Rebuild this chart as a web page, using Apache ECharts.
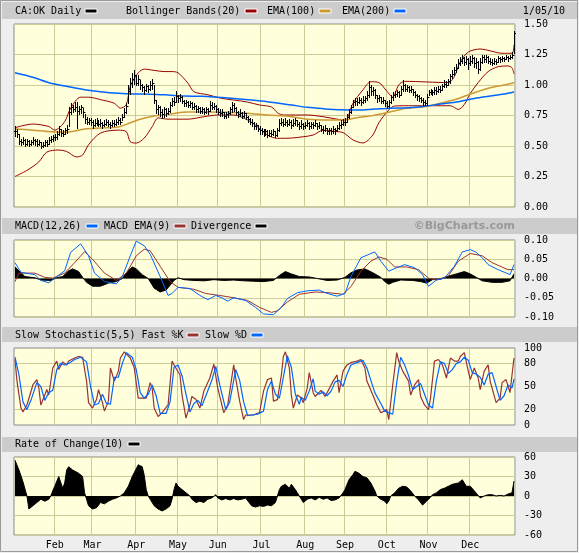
<!DOCTYPE html>
<html><head><meta charset="utf-8">
<script src="https://cdn.jsdelivr.net/npm/echarts@6/dist/echarts.min.js"></script>
<style>html,body{margin:0;padding:0;background:#EEEEEE}#c{width:579px;height:553px}</style>
</head><body><div id="c"></div><script>
// ---------- trading-day categories (TSX calendar, 2009-01-05 .. 2010-01-05) ----------
const holidays = ['2009-01-01','2009-02-16','2009-04-10','2009-05-18','2009-07-01','2009-08-03','2009-09-07','2009-10-12','2009-12-25','2009-12-28','2010-01-01'];
const monthNames = ['Jan','Feb','Mar','Apr','May','Jun','Jul','Aug','Sep','Oct','Nov','Dec'];
const dates = [];
for (let d = new Date(Date.UTC(2009,0,5)); d <= new Date(Date.UTC(2010,0,5)); d.setUTCDate(d.getUTCDate()+1)) {
  const wd = d.getUTCDay(); const s = d.toISOString().slice(0,10);
  if (wd === 0 || wd === 6 || holidays.includes(s)) continue;
  dates.push(s);
}
const monthStarts = [];
for (let i = 1; i < dates.length; i++) {
  if (dates[i].slice(5,7) !== dates[i-1].slice(5,7) && dates[i].slice(0,4) === '2009') monthStarts.push(i);
}

// ---------- price (daily high / low / close) ----------
const closes = [
 0.62,0.60,0.54,0.53,0.55,0.52,0.54,0.52,0.53,0.55,0.54,0.52,0.53,0.50,0.51,0.53,0.52,0.55,0.56,0.57,
 0.57,0.60,0.64,0.61,0.60,0.63,0.64,0.78,0.82,0.80,0.82,0.79,0.80,0.82,0.78,0.72,0.70,0.71,0.70,
 0.67,0.69,0.70,0.68,0.69,0.67,0.68,0.70,0.68,0.67,0.69,0.68,0.70,0.71,0.70,0.74,0.78,0.83,0.95,1.02,1.05,1.08,
 1.02,1.05,1.00,0.98,0.96,0.99,0.97,1.00,1.02,0.88,0.80,0.82,0.78,0.76,0.80,0.77,0.79,0.84,0.87,0.86,0.91,
 0.89,0.90,0.87,0.85,0.86,0.84,0.85,0.82,0.83,0.80,0.81,0.79,0.80,0.78,0.80,0.79,0.84,0.82,0.83,0.80,
 0.78,0.77,0.78,0.75,0.76,0.77,0.80,0.84,0.81,0.78,0.76,0.77,0.75,0.77,0.74,0.72,0.70,0.69,0.66,0.67,0.64,0.63,
 0.62,0.60,0.62,0.59,0.61,0.60,0.62,0.59,0.63,0.69,0.70,0.68,0.70,0.68,0.70,0.67,0.69,0.71,0.68,0.66,0.68,0.66,
 0.67,0.69,0.66,0.68,0.67,0.69,0.66,0.67,0.64,0.63,0.65,0.62,0.63,0.62,0.64,0.63,0.65,0.67,0.68,0.70,
 0.70,0.74,0.78,0.82,0.86,0.87,0.86,0.88,0.86,0.88,0.89,0.92,0.98,0.95,0.96,0.92,0.89,0.90,0.87,0.88,0.85,
 0.83,0.86,0.90,0.92,0.93,0.94,0.92,0.97,1.00,0.97,0.98,0.96,0.97,0.94,0.92,0.91,0.89,0.88,0.86,0.85,0.90,
 0.94,0.95,0.94,0.96,0.95,0.97,0.96,0.99,1.01,1.00,1.03,1.07,1.09,1.12,1.14,1.18,1.20,1.22,1.19,1.21,1.18,
 1.20,1.22,1.18,1.19,1.13,1.19,1.23,1.21,1.23,1.20,1.19,1.18,1.20,1.19,1.22,1.21,1.22,1.21,1.23,1.22,1.23,
 1.25,1.43];
const highs = [
 0.66,0.64,0.60,0.56,0.57,0.56,0.56,0.55,0.55,0.57,0.56,0.56,0.55,0.53,0.53,0.55,0.55,0.57,0.58,0.59,
 0.60,0.62,0.66,0.64,0.63,0.65,0.67,0.82,0.85,0.84,0.86,0.86,0.83,0.84,0.81,0.76,0.74,0.73,0.73,
 0.71,0.72,0.73,0.71,0.72,0.70,0.71,0.72,0.71,0.70,0.71,0.71,0.72,0.74,0.73,0.76,0.81,0.85,1.00,1.06,1.10,1.12,
 1.08,1.08,1.04,1.01,0.99,1.01,1.00,1.03,1.05,1.00,0.88,0.84,0.83,0.80,0.82,0.81,0.81,0.86,0.89,0.90,0.95,
 0.92,0.93,0.91,0.88,0.88,0.87,0.87,0.86,0.85,0.84,0.83,0.82,0.82,0.81,0.82,0.81,0.87,0.86,0.85,0.84,
 0.81,0.80,0.80,0.78,0.78,0.79,0.82,0.86,0.85,0.82,0.79,0.80,0.78,0.79,0.77,0.75,0.73,0.72,0.70,0.69,0.67,0.66,
 0.65,0.64,0.64,0.63,0.63,0.63,0.64,0.62,0.65,0.72,0.73,0.72,0.73,0.71,0.72,0.71,0.72,0.73,0.71,0.70,0.71,0.69,
 0.70,0.71,0.70,0.70,0.70,0.71,0.69,0.70,0.67,0.66,0.67,0.65,0.65,0.65,0.66,0.65,0.67,0.70,0.71,0.72,
 0.73,0.76,0.80,0.84,0.88,0.89,0.89,0.90,0.89,0.91,0.91,0.95,1.03,1.00,0.98,0.97,0.92,0.92,0.90,0.90,0.88,
 0.87,0.88,0.92,0.94,0.95,0.96,0.95,0.99,1.04,1.01,1.00,0.99,0.99,0.97,0.95,0.93,0.92,0.90,0.89,0.88,0.93,
 0.96,0.97,0.96,0.98,0.98,0.99,0.99,1.01,1.04,1.03,1.05,1.09,1.12,1.15,1.17,1.21,1.23,1.25,1.23,1.24,1.22,
 1.24,1.25,1.23,1.22,1.20,1.22,1.25,1.25,1.25,1.24,1.22,1.21,1.22,1.21,1.24,1.23,1.24,1.23,1.25,1.24,1.25,
 1.27,1.44];
const lows = [
 0.58,0.57,0.52,0.51,0.52,0.50,0.51,0.50,0.51,0.52,0.51,0.50,0.51,0.48,0.49,0.50,0.50,0.52,0.53,0.54,
 0.55,0.56,0.59,0.58,0.58,0.60,0.61,0.66,0.76,0.78,0.79,0.65,0.76,0.77,0.74,0.69,0.68,0.68,0.67,
 0.65,0.66,0.67,0.66,0.66,0.65,0.66,0.67,0.66,0.65,0.66,0.66,0.67,0.68,0.68,0.71,0.74,0.77,0.85,0.93,0.98,1.01,
 1.00,1.00,0.97,0.95,0.93,0.95,0.94,0.96,0.97,0.85,0.77,0.76,0.75,0.73,0.74,0.75,0.76,0.78,0.83,0.84,0.86,
 0.86,0.87,0.85,0.83,0.83,0.82,0.82,0.80,0.80,0.78,0.78,0.77,0.77,0.76,0.77,0.76,0.79,0.80,0.80,0.78,
 0.76,0.75,0.75,0.73,0.73,0.74,0.76,0.78,0.79,0.76,0.74,0.75,0.73,0.74,0.72,0.70,0.68,0.66,0.64,0.64,0.62,0.60,
 0.60,0.58,0.59,0.57,0.58,0.58,0.59,0.57,0.58,0.62,0.67,0.66,0.67,0.66,0.67,0.65,0.66,0.67,0.66,0.64,0.65,0.64,
 0.65,0.66,0.64,0.65,0.65,0.66,0.64,0.65,0.62,0.61,0.62,0.60,0.60,0.60,0.61,0.60,0.62,0.64,0.65,0.67,
 0.67,0.70,0.73,0.77,0.82,0.84,0.84,0.85,0.84,0.85,0.86,0.88,0.90,0.92,0.92,0.89,0.86,0.87,0.85,0.85,0.83,
 0.81,0.82,0.85,0.88,0.90,0.91,0.90,0.92,0.95,0.95,0.95,0.94,0.94,0.92,0.90,0.88,0.87,0.86,0.84,0.84,0.84,
 0.92,0.93,0.92,0.93,0.93,0.94,0.94,0.96,0.98,0.98,1.00,1.02,1.06,1.08,1.11,1.14,1.16,1.18,1.16,1.17,1.13,
 1.16,1.18,1.15,1.14,1.10,1.12,1.18,1.19,1.19,1.18,1.17,1.16,1.17,1.17,1.19,1.19,1.20,1.20,1.21,1.20,1.21,
 1.22,1.26];

// ---------- overlays: [dayIndex, value] ----------
const bbUpper = [[0,0.65],[9,0.68],[17,0.66],[20,0.63],[25,0.70],[28,0.81],[33,0.90],[37,0.90],[43,0.88],[50,0.85],[53,0.81],[56,0.84],[58,0.99],[62,1.10],[65,1.13],[70,1.12],[75,1.11],[79,1.11],[82,1.10],[87,1.015],[90,0.945],[97,0.92],[104,0.89],[110,0.877],[117,0.86],[123,0.836],[129,0.82],[132,0.773],[135,0.754],[147,0.754],[155,0.74],[162,0.72],[166,0.71],[170,0.85],[175,0.96],[179,1.027],[183,1.02],[187,0.95],[190,0.90],[193,1.0],[196,1.03],[218,1.02],[221,1.07],[224,1.19],[228,1.27],[234,1.295],[239,1.28],[245,1.26],[250,1.26],[251,1.33]];
const bbLower = [[0,0.25],[6,0.30],[12,0.37],[16,0.45],[22,0.467],[26,0.455],[31,0.41],[34,0.426],[37,0.51],[43,0.606],[52,0.63],[56,0.617],[58,0.535],[61,0.524],[65,0.565],[69,0.658],[72,0.73],[77,0.72],[87,0.72],[95,0.74],[102,0.754],[110,0.754],[117,0.713],[122,0.658],[127,0.59],[132,0.563],[139,0.565],[145,0.576],[150,0.59],[155,0.63],[160,0.62],[165,0.61],[170,0.55],[175,0.525],[180,0.59],[183,0.69],[188,0.795],[191,0.828],[200,0.83],[210,0.83],[219,0.83],[223,0.80],[226,0.84],[229,0.93],[233,1.02],[238,1.11],[243,1.15],[248,1.156],[250,1.14],[251,1.09]];
const ema100 = [[0,0.64],[9,0.63],[18,0.617],[27,0.615],[35,0.64],[43,0.647],[52,0.656],[58,0.69],[63,0.72],[70,0.746],[77,0.76],[87,0.778],[97,0.778],[107,0.776],[117,0.768],[127,0.754],[139,0.74],[147,0.719],[155,0.713],[165,0.713],[172,0.732],[180,0.749],[189,0.78],[197,0.809],[206,0.822],[214,0.85],[223,0.89],[231,0.937],[239,0.978],[246,1.0],[251,1.019]];
const ema200 = [[0,1.10],[9,1.063],[18,1.014],[27,0.986],[35,0.962],[43,0.945],[52,0.932],[60,0.926],[68,0.925],[77,0.918],[85,0.91],[94,0.907],[102,0.899],[110,0.89],[119,0.877],[127,0.863],[139,0.836],[147,0.817],[155,0.806],[164,0.797],[172,0.795],[181,0.803],[189,0.81],[198,0.814],[206,0.826],[214,0.844],[223,0.863],[231,0.89],[239,0.91],[246,0.926],[251,0.943]];

const macdLine = [[0,0.041],[3,0.016],[10,0.010],[13,-0.005],[17,-0.011],[21,0.005],[25,0.020],[28,0.068],[33,0.09],[37,0.059],[40,0.014],[45,-0.008],[51,-0.014],[54,0.005],[58,0.059],[61,0.097],[65,0.085],[68,0.063],[73,0.005],[77,-0.044],[79,-0.039],[82,-0.023],[88,-0.026],[93,-0.044],[97,-0.055],[101,-0.044],[104,-0.05],[107,-0.059],[110,-0.05],[116,-0.057],[121,-0.075],[125,-0.092],[130,-0.094],[134,-0.075],[137,-0.052],[142,-0.037],[147,-0.032],[153,-0.030],[156,-0.037],[162,-0.046],[166,-0.039],[169,0.005],[174,0.054],[181,0.069],[184,0.045],[188,0.019],[192,0.028],[196,0.036],[201,0.028],[205,0.01],[208,-0.02],[212,-0.004],[216,0.001],[221,0.032],[225,0.069],[229,0.075],[232,0.068],[235,0.054],[238,0.036],[243,0.023],[249,0.01],[251,0.036]];
const macdSignal = [[0,-0.008],[2,0.014],[10,0.014],[15,0.003],[19,0.001],[25,0.014],[30,0.041],[35,0.07],[39,0.05],[45,0.014],[51,-0.005],[56,0.014],[61,0.059],[65,0.076],[68,0.072],[73,0.032],[78,-0.008],[82,-0.023],[90,-0.028],[96,-0.039],[103,-0.044],[110,-0.05],[117,-0.057],[123,-0.075],[129,-0.088],[132,-0.084],[137,-0.061],[143,-0.041],[151,-0.035],[158,-0.037],[165,-0.041],[169,-0.021],[174,0.019],[179,0.045],[183,0.056],[187,0.05],[191,0.03],[197,0.03],[203,0.023],[208,0.001],[212,-0.004],[218,0.007],[223,0.045],[229,0.065],[235,0.059],[240,0.041],[248,0.023],[251,0.023]];
const macdDiv = [[0,0.03],[2,0.02],[5,0.005],[10,0.002],[13,-0.004],[18,-0.005],[21,0.002],[24,0.005],[27,0.02],[29,0.025],[32,0.018],[34,0.003],[36,-0.01],[39,-0.02],[43,-0.02],[47,-0.012],[51,-0.008],[54,0.0],[56,0.015],[59,0.03],[61,0.025],[64,0.01],[67,0.0],[70,-0.025],[73,-0.035],[76,-0.03],[80,-0.005],[82,0.002],[85,-0.003],[90,-0.005],[95,-0.006],[100,-0.003],[105,-0.005],[110,-0.004],[115,-0.006],[120,-0.007],[125,-0.008],[130,-0.005],[133,0.008],[136,0.018],[139,0.012],[143,0.005],[148,0.004],[152,0.0],[157,-0.005],[162,-0.004],[166,0.003],[169,0.015],[172,0.022],[176,0.025],[180,0.015],[184,0.003],[186,-0.008],[188,-0.015],[190,-0.01],[194,-0.004],[200,-0.005],[204,-0.008],[207,-0.012],[210,-0.003],[214,-0.002],[218,0.006],[222,0.012],[226,0.018],[229,0.012],[232,0.003],[235,-0.006],[240,-0.01],[245,-0.01],[249,-0.006],[251,0.012]];

const stochK = [[0,85],[1,57],[3,22],[4,17],[6,26],[9,52],[11,59],[12,48],[13,26],[15,39],[16,46],[17,39],[19,74],[21,83],[22,72],[24,82],[26,78],[27,83],[30,87],[32,89],[34,88],[36,57],[37,29],[39,22],[41,33],[42,46],[44,29],[45,18],[47,31],[48,74],[50,57],[52,70],[53,87],[55,95],[58,87],[60,74],[62,35],[63,33],[66,35],[68,55],[69,48],[70,22],[72,11],[74,16],[77,26],[79,83],[80,78],[83,65],[84,39],[86,9],[88,26],[89,37],[91,33],[93,22],[95,44],[98,61],[100,79],[102,48],[105,16],[107,26],[110,78],[111,61],[113,31],[115,7],[116,13],[120,13],[123,16],[125,44],[127,59],[129,61],[130,31],[132,33],[134,65],[135,89],[136,95],[138,74],[139,39],[140,22],[142,39],[144,35],[145,29],[147,48],[148,68],[150,42],[151,37],[154,45],[156,37],[157,39],[160,57],[162,65],[163,42],[165,70],[167,78],[169,81],[172,83],[174,85],[176,74],[177,57],[180,39],[182,26],[184,16],[187,20],[188,7],[190,52],[192,94],[193,83],[195,70],[198,57],[199,39],[201,52],[203,59],[204,37],[206,26],[208,20],[209,35],[211,83],[213,85],[215,78],[217,61],[219,87],[221,83],[223,83],[224,89],[226,94],[228,70],[229,59],[231,74],[233,61],[234,46],[236,70],[238,78],[239,57],[242,29],[244,35],[245,55],[247,59],[249,42],[250,65],[251,87]];
const stochD = [[0,88],[2,65],[4,30],[6,20],[8,32],[11,55],[13,50],[15,32],[17,42],[19,45],[21,72],[23,80],[25,78],[27,80],[30,85],[33,88],[36,82],[38,50],[40,26],[42,28],[44,40],[46,28],[48,27],[50,62],[52,62],[54,80],[56,94],[59,88],[61,72],[63,42],[65,35],[67,40],[69,52],[71,38],[73,15],[76,15],[78,30],[80,75],[82,78],[84,64],[86,40],[88,17],[90,28],[92,32],[94,25],[96,38],[99,58],[101,76],[103,52],[106,20],[108,30],[111,72],[113,58],[115,30],[117,12],[119,13],[122,14],[125,18],[127,46],[129,57],[131,40],[133,35],[135,62],[137,90],[139,75],[141,40],[143,27],[144,36],[146,32],[148,44],[150,60],[151,44],[153,40],[155,43],[157,38],[159,44],[161,56],[163,58],[165,50],[167,66],[169,78],[172,81],[175,84],[177,74],[179,58],[181,42],[184,28],[186,18],[188,16],[190,14],[192,55],[194,88],[196,78],[198,64],[200,46],[202,50],[204,54],[206,40],[208,26],[210,22],[212,58],[214,82],[216,80],[218,67],[220,72],[222,80],[224,82],[226,88],[228,84],[230,68],[232,66],[234,62],[236,52],[238,66],[240,68],[242,50],[244,32],[246,38],[248,52],[250,48],[251,60]];

const roc = [[0,55],[2,40],[4,22],[6,0],[7,-20],[8,-22],[9,-15],[11,-10],[13,-5],[15,-8],[17,-5],[18,0],[19,8],[20,15],[22,30],[24,12],[25,20],[26,40],[27,45],[29,40],[30,38],[32,35],[33,35],[34,30],[35,5],[36,-5],[37,-15],[39,-20],[41,-18],[43,-10],[45,-12],[47,-8],[49,-5],[51,-3],[53,0],[55,5],[57,15],[59,30],[61,42],[62,48],[64,45],[65,32],[66,10],[67,0],[68,-5],[70,-15],[72,-20],[74,-23],[76,-20],[78,-15],[79,-5],[80,10],[81,20],[82,15],[84,10],[86,5],[88,0],[89,-5],[91,-10],[93,-8],[95,-10],[97,-5],[99,-3],[101,2],[102,-3],[104,-6],[106,-4],[108,-6],[110,-4],[112,-6],[114,-5],[116,-3],[117,-6],[119,-15],[121,-17],[123,-15],[125,-16],[127,-14],[129,-15],[131,-10],[132,0],[133,10],[134,15],[136,18],[138,12],[139,18],[140,20],[141,10],[142,5],[143,0],[144,-5],[145,-10],[147,-5],[149,-3],[151,-6],[153,-2],[155,-5],[157,-3],[159,-7],[161,-6],[163,-3],[165,5],[166,10],[168,25],[170,33],[171,38],[173,35],[175,30],[177,28],[179,20],[181,8],[182,0],[184,-5],[186,-8],[187,-12],[188,-8],[189,0],[191,5],[193,12],[195,15],[197,14],[199,8],[201,0],[202,-3],[203,-6],[205,-14],[207,-8],[209,-2],[210,2],[212,5],[214,10],[216,12],[218,15],[220,18],[221,15],[223,20],[225,25],[226,22],[227,15],[229,15],[231,8],[232,5],[234,-3],[235,-5],[236,0],[238,2],[240,2],[242,0],[244,1],[246,0],[248,3],[249,2],[250,5],[251,23]];

// ---------- tick labels ----------
const priceTicks = {min:0, max:1.5, step:0.25};
const macdTicks = {min:-0.1, max:0.1, step:0.05};
const stochLabels = [0,20,50,80,100];
const rocTicks = {min:-60, max:60, step:30};

// ---------- chart ----------
const FONT = '"DejaVu Sans Mono", monospace';
const GRIDC = '#CCCC99';
const PLOT = '#FFFFDC';
const grids = [
  {left:14, width:501, top:24, height:183},
  {left:14, width:501, top:240, height:77},
  {left:14, width:501, top:348, height:77},
  {left:14, width:501, top:457, height:78}
].map(g => Object.assign(g, {show:true, backgroundColor:PLOT, borderColor:'#8a8a8a', borderWidth:1}));

function xAxis(gi, labels) {
  return {
    type:'category', gridIndex:gi, data:dates, boundaryGap:true,
    axisLine:{show:false}, axisTick:{show:false},
    axisLabel:{show:labels, interval:(i)=>monthStarts.includes(i), color:'#000', fontFamily:FONT, fontSize:10, margin:5,
      formatter:(v)=>monthNames[parseInt(v.slice(5,7),10)-1]},
    splitLine:{show:true, interval:(i)=>monthStarts.includes(i), lineStyle:{color:GRIDC, width:1}}
  };
}
function yAxis(gi, t, fmt, split) {
  return {
    type:'value', gridIndex:gi, position:'right', min:t.min, max:t.max, interval:t.step,
    axisLine:{show:false}, axisTick:{show:false},
    axisLabel:{color:'#000', fontFamily:FONT, fontSize:10, margin:9, formatter:fmt},
    splitLine:{show:split, lineStyle:{color:GRIDC, width:1}}
  };
}
const f2 = v => (Math.abs(v) < 1e-9 ? 0 : v).toFixed(2);

const priceData = closes.map((c,i)=>[i, highs[i], lows[i], c, i>0 ? closes[i-1] : c]);

function lineS(name, xi, data, color, width, extra) {
  return Object.assign({type:'line', name, xAxisIndex:xi, yAxisIndex:xi, data, symbol:'none', showSymbol:false,
    lineStyle:{color, width}, itemStyle:{color}, silent:true, animation:false}, extra||{});
}

const option = {
  animation:false,
  backgroundColor:'#EEEEEE',
  grid: grids,
  xAxis:[xAxis(0,false), xAxis(1,false), xAxis(2,false), xAxis(3,true)],
  yAxis:[
    yAxis(0, priceTicks, f2, true),
    yAxis(1, macdTicks, f2, true),
    Object.assign(yAxis(2, {min:0,max:100,step:10}, v => stochLabels.includes(Math.round(v)) ? String(Math.round(v)) : '', false)),
    yAxis(3, rocTicks, v => String(v), true)
  ],
  series:[
    lineS('BB upper',0,bbUpper,'#990000',1,{smooth:0.3}),
    lineS('BB lower',0,bbLower,'#990000',1,{smooth:0.3}),
    lineS('EMA(100)',0,ema100,'#CC9933',1.5,{smooth:0.3}),
    lineS('EMA(200)',0,ema200,'#0066FF',1.5,{smooth:0.3}),
    {type:'custom', name:'CA:OK Daily', xAxisIndex:0, yAxisIndex:0, data:priceData, silent:true, z:5,
      encode:{x:0, y:[1,2,3,4]},
      renderItem:function(params, api){
        const i = api.value(0);
        const hi = api.coord([i, api.value(1)]);
        const lo = api.coord([i, api.value(2)]);
        const cl = api.coord([i, api.value(3)]);
        const op = api.coord([i, api.value(4)]);
        const x = Math.round(hi[0]) + 0.5;
        const yc = Math.round(cl[1]) + 0.5, yo = Math.round(op[1]) + 0.5;
        const st = {stroke:'#000', lineWidth:1};
        return {type:'group', children:[
          {type:'line', shape:{x1:x, y1:Math.round(hi[1]), x2:x, y2:Math.round(lo[1])+1}, style:st},
          {type:'line', shape:{x1:x-1.5, y1:yo, x2:x, y2:yo}, style:st},
          {type:'line', shape:{x1:x, y1:yc, x2:x+1.5, y2:yc}, style:st}
        ]};
      }
    },
    lineS('Divergence',1,macdDiv,'#000',1,{areaStyle:{color:'#000', opacity:1, origin:'auto'}, z:2}),
    lineS('MACD EMA(9)',1,macdSignal,'#993333',1,{z:3}),
    lineS('MACD(12,26)',1,macdLine,'#0066FF',1,{z:4}),
    lineS('Fast %K',2,stochK,'#993333',1.2,{z:3, markLine:{silent:true, symbol:['none','none'], label:{show:false},
      lineStyle:{color:GRIDC, type:'solid', width:1}, data:[{yAxis:20},{yAxis:50},{yAxis:80}], z:1}}),
    lineS('Slow %D',2,stochD,'#0066FF',1.2,{z:4}),
    lineS('Rate of Change(10)',3,roc,'#000',1,{areaStyle:{color:'#000', opacity:1, origin:'auto'}})
  ],
  graphic:[]
};

// header bars, legend texts and swatches
const G = option.graphic;
function bar(y, h){ G.push({type:'rect', x:2, y:y, shape:{width:575, height:h}, style:{fill:'#CCCCCC'}, z:-10}); }
function txt(x, y, s, extra){ G.push({type:'text', x:x, y:y, style:Object.assign({text:s, fill:'#000', font:'10px '+FONT, textVerticalAlign:'middle', textAlign:'left'}, extra||{}), z:10}); }
function sw(x, y, color){ G.push({type:'rect', x:x, y:y-2, shape:{width:12, height:4}, style:{fill:color, stroke:'#FFFFFF', lineWidth:1}, z:10}); }
G.push({type:'rect', x:0.5, y:0.5, shape:{width:577, height:551}, style:{fill:'none', stroke:'#999999', lineWidth:1}, z:-11});
bar(2, 17); bar(218, 16); bar(327, 15); bar(437, 15);
txt(15, 11, 'CA:OK Daily'); sw(85, 11, '#000000');
txt(126, 11, 'Bollinger Bands(20)'); sw(245, 11, '#990000');
txt(267, 11, 'EMA(100)'); sw(319, 11, '#CC9933');
txt(342, 11, 'EMA(200)'); sw(394, 11, '#0066FF');
txt(565, 11, '1/05/10', {textAlign:'right'});
txt(15, 226, 'MACD(12,26)'); sw(86, 226, '#0066FF');
txt(104, 226, 'MACD EMA(9)'); sw(174, 226, '#993333');
txt(191, 226, 'Divergence'); sw(255, 226, '#000000');
txt(515, 226, '\u00A9BigCharts.com', {textAlign:'right', fill:'#999999', font:'bold 11px "DejaVu Sans", sans-serif'});
txt(15, 335, 'Slow Stochastic(5,5) Fast %K'); sw(187, 335, '#993333');
txt(205, 335, 'Slow %D'); sw(251, 335, '#0066FF');
txt(15, 444, 'Rate of Change(10)'); sw(128, 444, '#000000');

const chart = echarts.init(document.getElementById('c'), null, {renderer:'canvas'});
chart.setOption(option);
</script></body></html>
